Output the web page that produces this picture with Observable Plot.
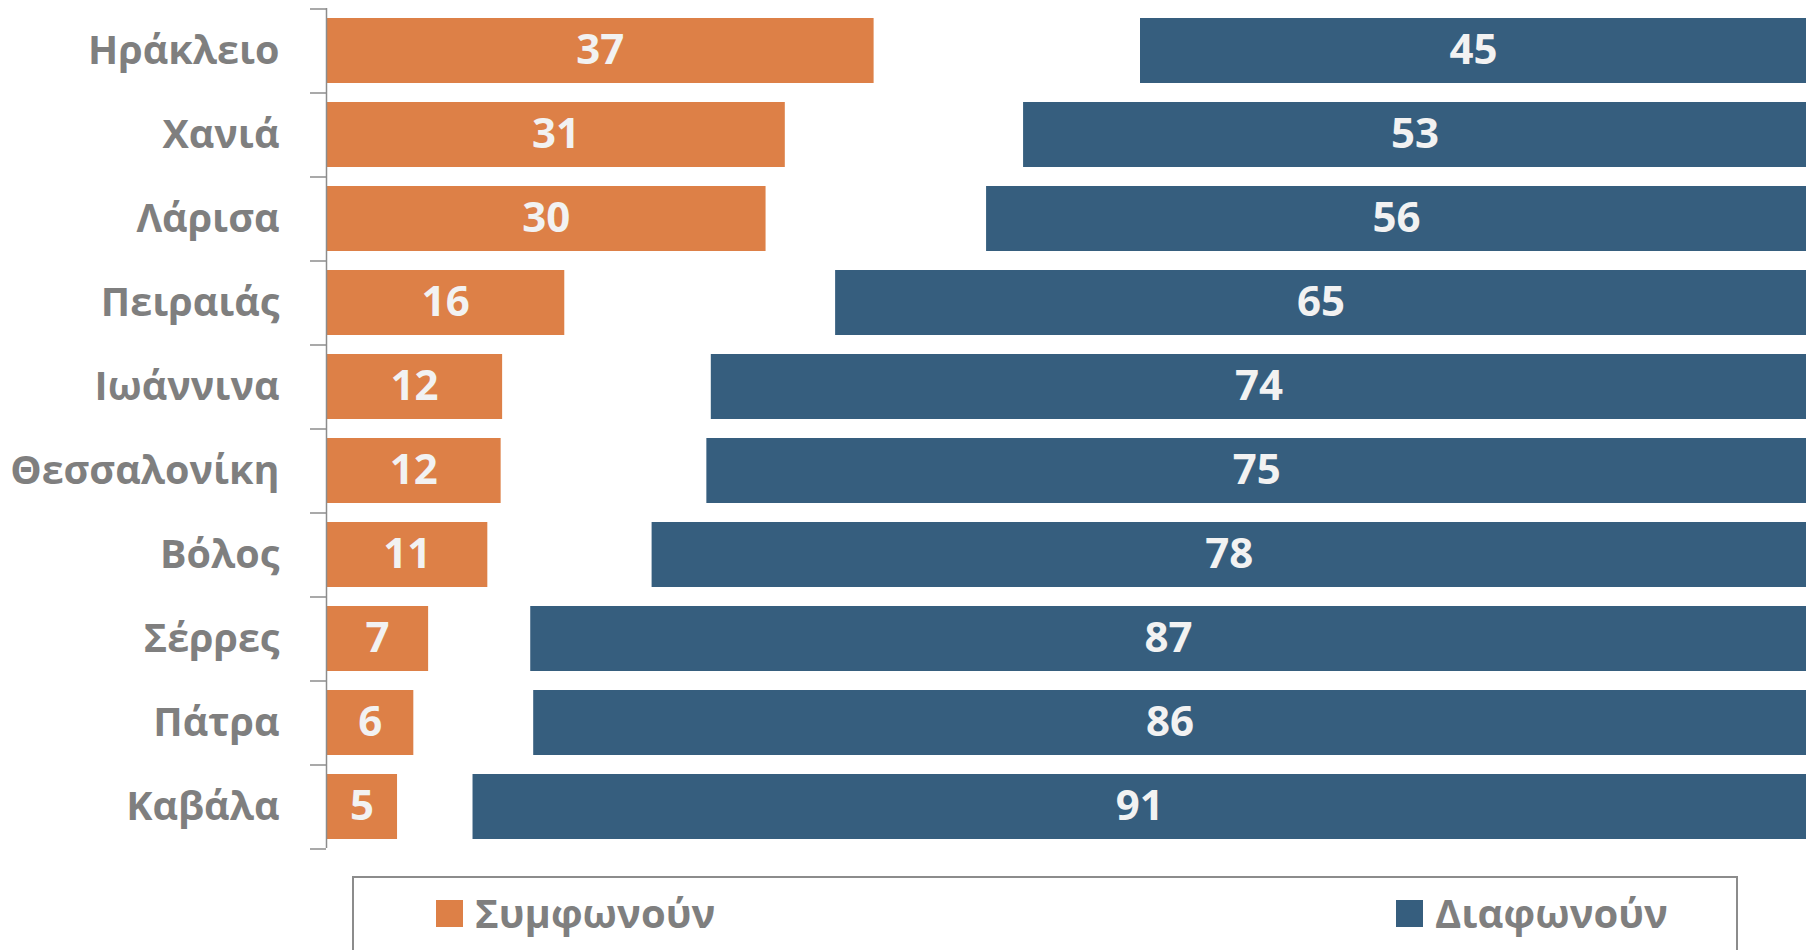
<!DOCTYPE html>
<html>
<head>
<meta charset="utf-8">
<script src="https://cdn.jsdelivr.net/npm/d3@7"></script>
<script src="https://cdn.jsdelivr.net/npm/@observablehq/plot@0.6"></script>
<style>
  html, body { margin: 0; padding: 0; background: #ffffff; }
  body { width: 1806px; height: 950px; overflow: hidden; position: relative; font-family: "Open Sans", sans-serif; }
  #chart svg { display: block; }
  #legend {
    position: absolute; left: 352px; top: 876px; width: 1386px; height: 140px;
    border: 2px solid #8c8c8c; box-sizing: border-box; background: #fff;
  }
  .sw { position: absolute; width: 27px; height: 27px; top: 22px; }
  .lbl { position: absolute; top: 7px; font-size: 40px; font-weight: 700; color: #7f7f7f; white-space: nowrap; line-height: normal; }
</style>
</head>
<body>
<div id="chart"></div>
<div id="legend"></div>
<script>
// ---- data ----
const cities = ["Ηράκλειο", "Χανιά", "Λάρισα", "Πειραιάς", "Ιωάννινα", "Θεσσαλονίκη", "Βόλος", "Σέρρες", "Πάτρα", "Καβάλα"];
// printed labels
const agree = [37, 31, 30, 16, 12, 12, 11, 7, 6, 5];
const disagree = [45, 53, 56, 65, 74, 75, 78, 87, 86, 91];
// bar lengths (unrounded)
const agreeBar = [37, 31, 29.7, 16.1, 11.9, 11.8, 10.9, 6.9, 5.9, 4.8];
const disagreeBar = [45, 52.9, 55.4, 65.6, 74.0, 74.3, 78.0, 86.2, 86.0, 90.1];
const seriesNames = ["Συμφωνούν", "Διαφωνούν"];
const seriesColors = ["#dd8047", "#365e7e"];

const rows = cities.map((c, i) => ({
  city: c, agree: agree[i], disagree: disagree[i], agreeBar: agreeBar[i], disagreeBar: disagreeBar[i]
}));

const axisColor = "#8c8c8c";
const labelColor = "#7f7f7f";
const valueColor = "#f2f2f2";
const halfStep = 42;

const chart = Plot.plot({
  width: 1806,
  height: 860,
  marginLeft: 326,
  marginRight: 0,
  marginTop: 8,
  marginBottom: 12,
  style: {fontFamily: "'Open Sans', sans-serif", background: "#ffffff", overflow: "visible"},
  x: {domain: [0, 100], axis: null},
  y: {domain: cities, paddingInner: 0.23, paddingOuter: 0.115, label: null, axis: null},
  marks: [
    Plot.barX(rows, {y: "city", x1: 0, x2: "agreeBar", fill: seriesColors[0]}),
    Plot.barX(rows, {y: "city", x1: d => 100 - d.disagreeBar, x2: 100, fill: seriesColors[1]}),
    Plot.text(rows, {y: "city", x: d => d.agreeBar / 2, text: d => String(d.agree), fill: valueColor, fontSize: 42, fontWeight: "bold"}),
    Plot.text(rows, {y: "city", x: d => 100 - d.disagreeBar / 2, text: d => String(d.disagree), fill: valueColor, fontSize: 42, fontWeight: "bold"}),
    Plot.ruleX([0], {stroke: axisColor, strokeWidth: 1.5}),
    Plot.axisY({tickSize: 0, tickPadding: 47, fontSize: 39.5, fontWeight: "bold", color: labelColor, label: null}),
    Plot.axisY({text: null, tickSize: 16, dy: halfStep, stroke: axisColor, strokeWidth: 1.5, label: null}),
    Plot.axisY([cities[0]], {text: null, tickSize: 16, dy: -halfStep, stroke: axisColor, strokeWidth: 1.5, label: null})
  ]
});
document.getElementById("chart").appendChild(chart);

// ---- legend ----
const legend = document.getElementById("legend");
const swatchLeft = [82, 1042];
const textLeft = [121, 1081];
seriesNames.forEach((name, i) => {
  const sw = document.createElement("div");
  sw.className = "sw";
  sw.style.left = swatchLeft[i] + "px";
  sw.style.background = seriesColors[i];
  legend.appendChild(sw);
  const t = document.createElement("div");
  t.className = "lbl";
  t.style.left = textLeft[i] + "px";
  t.textContent = name;
  legend.appendChild(t);
});
</script>
</body>
</html>
